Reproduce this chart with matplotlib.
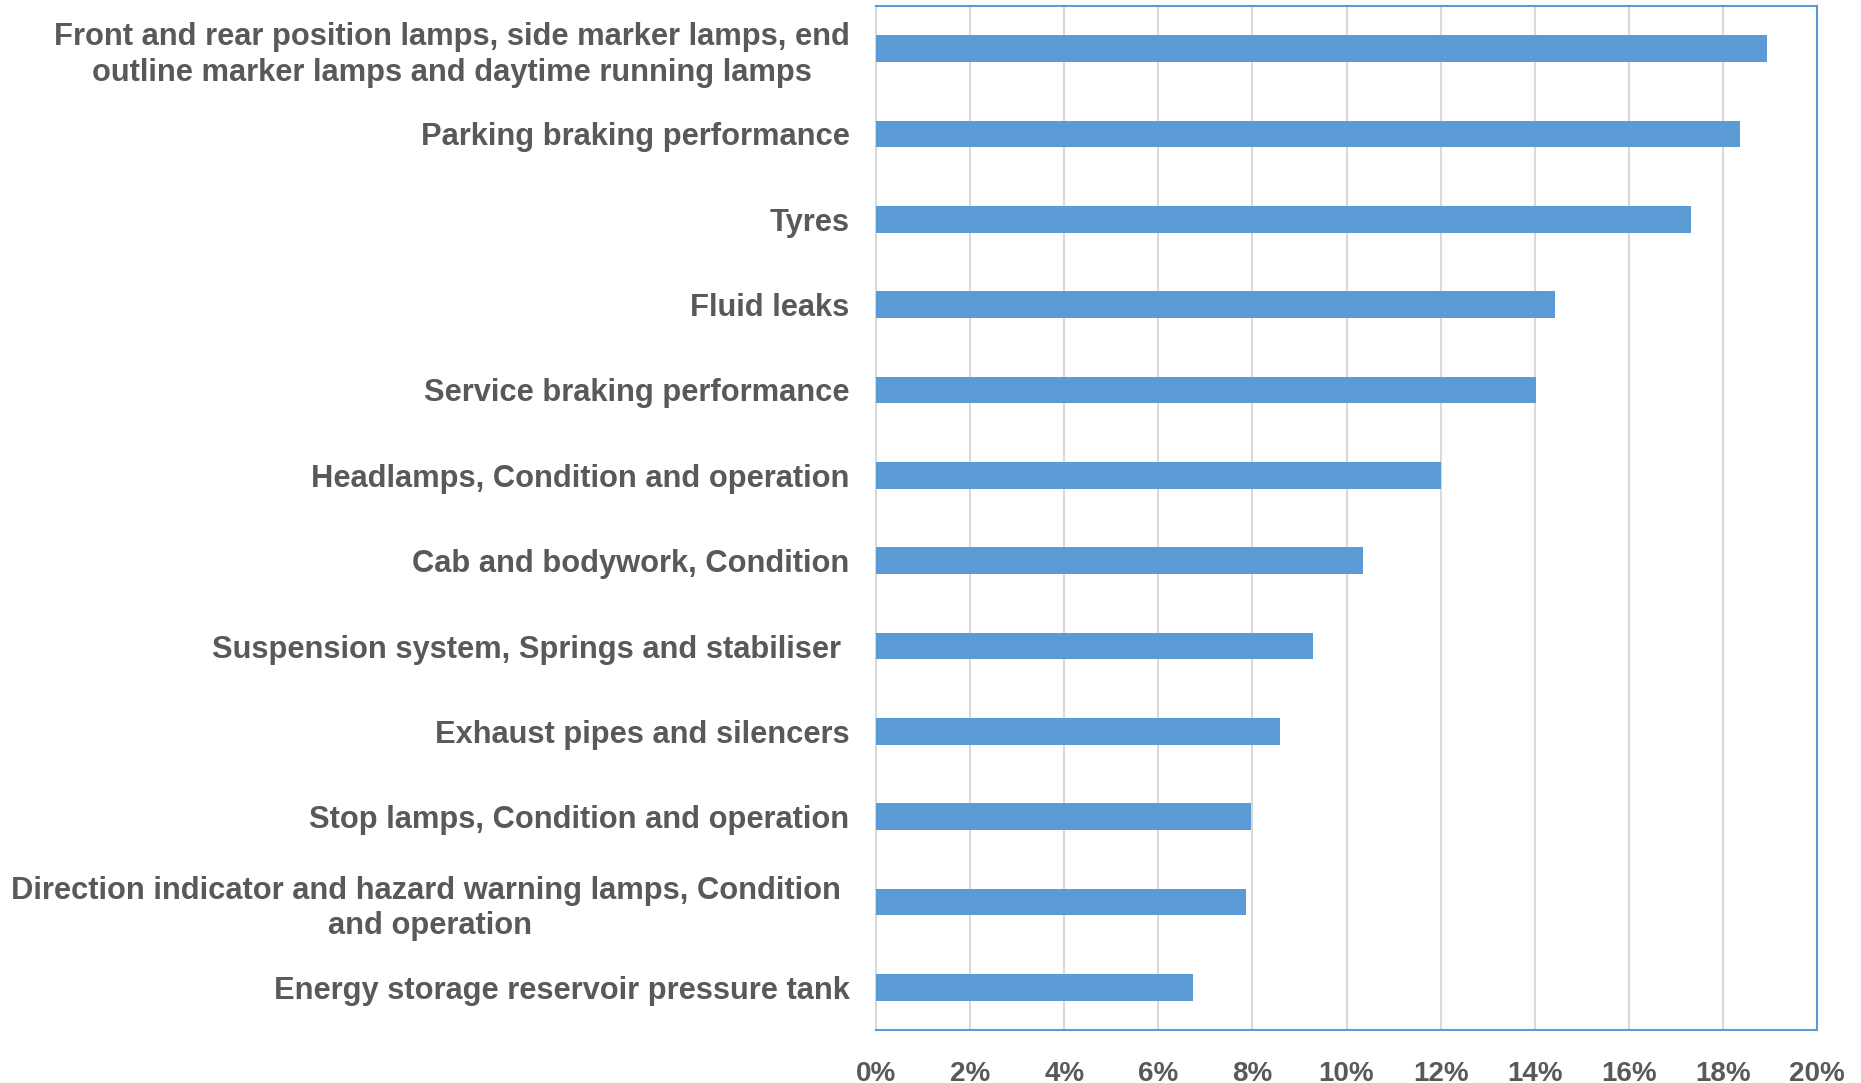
import matplotlib.pyplot as plt
from matplotlib.ticker import FuncFormatter

plt.rcParams['font.family'] = ['Liberation Sans', 'DejaVu Sans']

# defect categories, top to bottom as in the chart
labels = [
    "Front and rear position lamps, side marker lamps, end\noutline marker lamps and daytime running lamps",
    "Parking braking performance",
    "Tyres",
    "Fluid leaks",
    "Service braking performance",
    "Headlamps, Condition and operation",
    "Cab and bodywork, Condition",
    "Suspension system, Springs and stabiliser ",
    "Exhaust pipes and silencers",
    "Stop lamps, Condition and operation",
    "Direction indicator and hazard warning lamps, Condition \nand operation",
    "Energy storage reservoir pressure tank",
]
# share of vehicles (%)
values = [18.94, 18.36, 17.33, 14.43, 14.02, 12.0, 10.34, 9.28, 8.58, 7.97, 7.87, 6.73]

blue = '#5B9BD5'
grey_text = '#595959'

fig = plt.figure(figsize=(18.61, 10.83), dpi=100)
ax = fig.add_axes([0.4707, 0.0489, 0.5057, 0.9456])

y = list(range(len(labels)))[::-1]
ax.barh(y, values, height=0.31, color=blue, zorder=3)

ax.set_xlim(0, 20)
ax.set_ylim(-0.5, len(labels) - 0.5)
ax.set_xticks(range(0, 21, 2))
ax.xaxis.set_major_formatter(FuncFormatter(lambda v, p: f"{v:.0f}%"))
ax.set_yticks(y)
ax.set_yticklabels(labels, multialignment='center', linespacing=1.25)

ax.grid(axis='x', color='#D9D9D9', linewidth=1.5, zorder=0)
ax.tick_params(axis='both', length=0, labelcolor=grey_text)
ax.tick_params(axis='y', pad=19, labelsize=22.2)
ax.tick_params(axis='x', pad=22, labelsize=20)
for lab in ax.get_xticklabels() + ax.get_yticklabels():
    lab.set_fontweight('bold')

for side in ['top', 'right', 'bottom']:
    ax.spines[side].set_color(blue)
    ax.spines[side].set_linewidth(1.5)
ax.spines['left'].set_color('#D9D9D9')
ax.spines['left'].set_linewidth(1.5)

fig.savefig('out.png', dpi=100)
